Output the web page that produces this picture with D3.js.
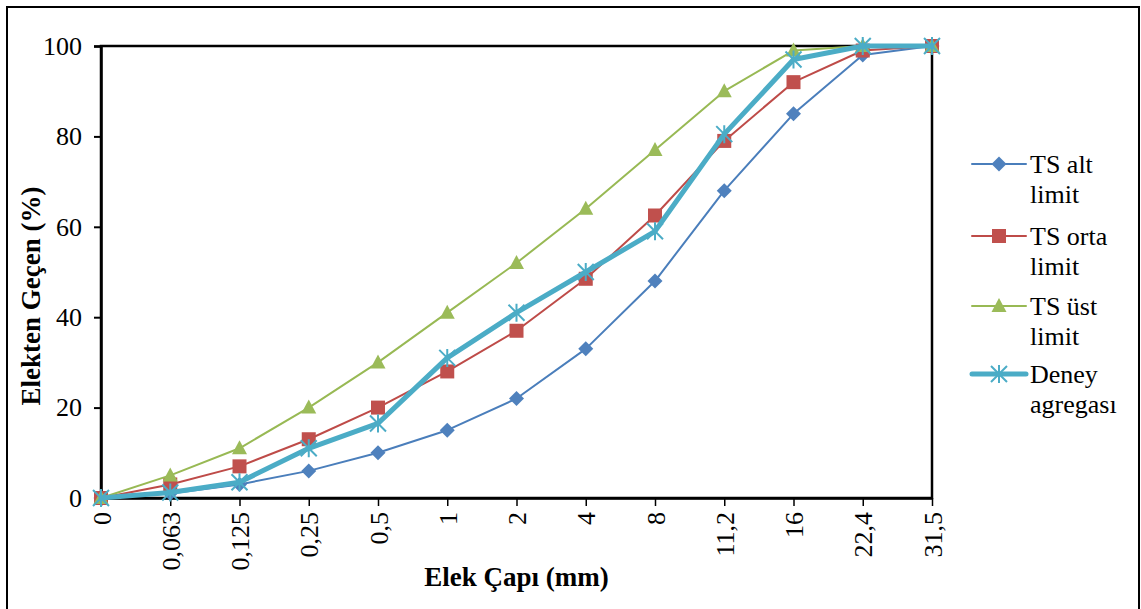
<!DOCTYPE html>
<html><head><meta charset="utf-8">
<script src="https://cdn.jsdelivr.net/npm/d3@7"></script>
<style>
html,body{margin:0;padding:0;background:#fff;}
svg{display:block;}
text{font-family:"Liberation Serif","Times New Roman",serif;fill:#000;}
</style></head>
<body>
<svg id="chart" width="1141" height="609"></svg>
<script>
const categories = ["0","0,063","0,125","0,25","0,5","1","2","4","8","11,2","16","22,4","31,5"];
const tsAlt  = [0,1,3,6,10,15,22,33,48,68,85,98,100];
const tsOrta = [0,3,7,13,20,28,37,48.5,62.5,79,92,99,100];
const tsUst  = [0,5,11,20,30,41,52,64,77,90,99,100,100];
const deney  = [0,1.2,3.5,11,16.5,31,41,50,59,80.5,97,100,100];
const yTicks = [0,20,40,60,80,100];
const seriesNames = ["TS alt|limit","TS orta|limit","TS üst|limit","Deney|agregası"];
const xTitle = "Elek Çapı (mm)";
const yTitle = "Elekten Geçen (%)";

const series = [
  {name:seriesNames[0], values:tsAlt,  line:"#4A7EBB", fill:"#4F81BD", width:2, marker:"diamond"},
  {name:seriesNames[1], values:tsOrta, line:"#BE4B48", fill:"#C0504D", width:2, marker:"square"},
  {name:seriesNames[2], values:tsUst,  line:"#98B954", fill:"#9BBB59", width:2, marker:"triangle"},
  {name:seriesNames[3], values:deney,  line:"#4BACC6", fill:"#4BACC6", width:5, marker:"star"}
];

const svg = d3.select("#chart");
const L = 101, R = 932, T = 46, B = 498;

svg.append("rect").attr("x",7).attr("y",7).attr("width",1132).attr("height",620)
  .attr("fill","none").attr("stroke","#000").attr("stroke-width",2);

const x = d3.scalePoint().domain(categories).range([L,R]).padding(0);
const y = d3.scaleLinear().domain([0,100]).range([B,T]);

// plot frame
svg.append("rect").attr("x",L).attr("y",T).attr("width",R-L).attr("height",B-T)
  .attr("fill","none").attr("stroke","#000").attr("stroke-width",2.5);

// y axis
const yAxis = svg.append("g").attr("transform",`translate(${L},0)`)
  .call(d3.axisLeft(y).tickValues(yTicks).tickSize(7).tickPadding(12).tickFormat(d3.format("d")));
yAxis.attr("font-family",null).attr("font-size",null);
yAxis.select(".domain").attr("stroke","#000").attr("stroke-width",2.5);
yAxis.selectAll(".tick line").attr("stroke","#000").attr("stroke-width",2);
yAxis.selectAll(".tick text").style("font-family",'"Liberation Serif",serif').style("font-size","26px");

// x axis
const xAxis = svg.append("g").attr("transform",`translate(0,${B})`)
  .call(d3.axisBottom(x).tickSize(8).tickSizeOuter(0));
xAxis.attr("font-family",null).attr("font-size",null);
xAxis.select(".domain").attr("stroke","#000").attr("stroke-width",2.5);
xAxis.selectAll(".tick line").attr("stroke","#000").attr("stroke-width",1.5);
xAxis.selectAll(".tick text")
  .style("font-family",'"Liberation Serif",serif').style("font-size","26px")
  .attr("text-anchor","end").attr("transform","rotate(-90)")
  .attr("x",-14).attr("y",0).attr("dy","0.35em");

// titles
svg.append("text").attr("x",(L+R)/2).attr("y",586).attr("text-anchor","middle")
  .style("font-size","27px").style("font-weight","bold").text(xTitle);
svg.append("text").attr("transform","translate(40,296) rotate(-90)").attr("text-anchor","middle")
  .style("font-size","27px").style("font-weight","bold").text(yTitle);

function drawMarker(g, type, color){
  if(type==="diamond"){
    g.append("path").attr("d","M0,-7.5L7.5,0L0,7.5L-7.5,0Z").attr("fill",color);
  } else if(type==="square"){
    g.append("rect").attr("x",-7).attr("y",-7).attr("width",14).attr("height",14).attr("fill",color);
  } else if(type==="triangle"){
    g.append("path").attr("d","M0,-8L7.5,6L-7.5,6Z").attr("fill",color);
  } else if(type==="star"){
    g.append("path").attr("d","M0,-9V9M-8,-8L8,8M-8,8L8,-8")
      .attr("stroke",color).attr("stroke-width",2).attr("fill","none");
  }
}

const line = d3.line().x((d,i)=>x(categories[i])).y(d=>y(d));
series.forEach(s=>{
  const g = svg.append("g");
  g.append("path").datum(s.values).attr("d",line).attr("fill","none")
    .attr("stroke",s.line).attr("stroke-width",s.width).attr("stroke-linejoin","round").attr("stroke-linecap","round");
  s.values.forEach((v,i)=>{
    const m = g.append("g").attr("transform",`translate(${x(categories[i])},${y(v)})`);
    drawMarker(m, s.marker, s.fill);
  });
});

// legend
const legY = [164,236,306,374];
series.forEach((s,i)=>{
  const g = svg.append("g").attr("transform",`translate(972,${legY[i]})`);
  g.append("line").attr("x1",0).attr("x2",54).attr("y1",0).attr("y2",0)
    .attr("stroke",s.line).attr("stroke-width",s.width).attr("stroke-linecap","round");
  const m = g.append("g").attr("transform","translate(27,0)");
  drawMarker(m, s.marker, s.fill);
  const parts = s.name.split("|");
  const t = g.append("text").attr("x",58).attr("y",9).style("font-size","26px");
  t.append("tspan").attr("x",58).attr("dy",0).text(parts[0]);
  t.append("tspan").attr("x",58).attr("dy",30).text(parts[1]);
});
</script>
</body></html>
